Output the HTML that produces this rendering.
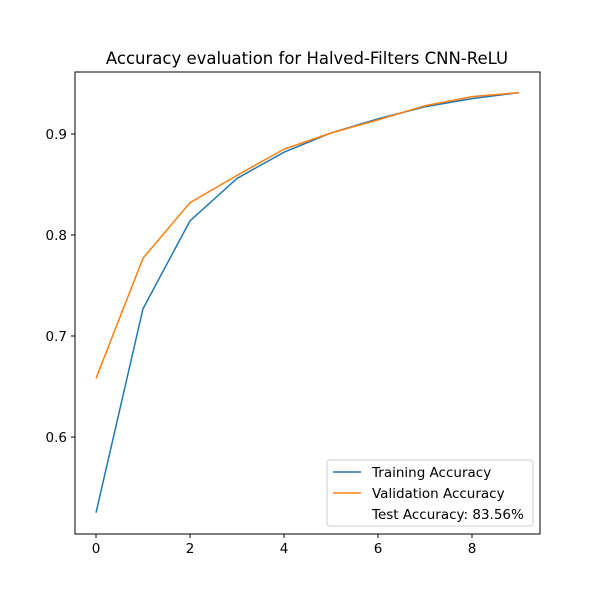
<!DOCTYPE html>
<html><head><meta charset="utf-8"><style>
body{margin:0;background:#fff}
svg{font-family:"DejaVu Sans","Liberation Sans",sans-serif}
</style></head><body>
<svg id="chart" width="600" height="600" xmlns="http://www.w3.org/2000/svg">
<rect width="600" height="600" fill="#fff"/>
<text x="307" y="64" text-anchor="middle" font-size="16.5">Accuracy evaluation for Halved-Filters CNN-ReLU</text>
<g id="ticks"></g>
<g id="lines"></g>
<rect x="75" y="72" width="465" height="462" fill="none" stroke="#000" stroke-width="1"/>
<g>
<rect x="327" y="460" width="206" height="66" rx="3" fill="#fff" fill-opacity="0.8" stroke="#ccc"/>
<line x1="333" y1="472" x2="361" y2="472" stroke="#1f77b4" stroke-width="1.5"/>
<text x="372" y="477" font-size="13.5">Training Accuracy</text>
<line x1="333" y1="493" x2="361" y2="493" stroke="#ff7f0e" stroke-width="1.5"/>
<text x="372" y="498" font-size="13.5">Validation Accuracy</text>
<text x="372" y="519" font-size="13.5">Test Accuracy: 83.56%</text>
</g>
</svg>
<script>
const epochs=[0,1,2,3,4,5,6,7,8,9];
const trainAcc=[0.525,0.727,0.814,0.856,0.882,0.901,0.915,0.927,0.935,0.941];
const valAcc=[0.658,0.777,0.832,0.859,0.885,0.901,0.914,0.928,0.937,0.941];
const xTicks=[0,2,4,6,8];
const yTicks=[0.6,0.7,0.8,0.9];
const yTickLabels=["0.6","0.7","0.8","0.9"];
const NS="http://www.w3.org/2000/svg";
const xs=v=>96+v*47;
const ys=v=>437-(v-0.6)*1010;
const tg=document.getElementById('ticks');
function mk(tag,attrs,parent){const e=document.createElementNS(NS,tag);for(const k in attrs)e.setAttribute(k,attrs[k]);parent.appendChild(e);return e;}
xTicks.forEach(t=>{
 const l=mk('line',{x1:xs(t),x2:xs(t),y1:534,y2:538,stroke:'#000'},tg);
 
 
 const tx=mk('text',{x:xs(t),y:553,'text-anchor':'middle','font-size':'13.5'},tg);
 tx.textContent=t;
 
 
});
yTicks.forEach((t,i)=>{
 const l=mk('line',{x1:71,x2:75,y1:ys(t),y2:ys(t),stroke:'#000'},tg);
 
 
 const tx=mk('text',{x:67,y:ys(t)+5,'text-anchor':'end','font-size':'13.5'},tg);
 tx.textContent=yTickLabels[i];
 
 
});
const lg=document.getElementById('lines');
function series(vals,color,name){
 const p=mk('polyline',{points:epochs.map((e,i)=>xs(e)+','+ys(vals[i])).join(' '),fill:'none',stroke:color,'stroke-width':'1.5'},lg);
 
 
}
series(trainAcc,'#1f77b4','training-accuracy-line');
series(valAcc,'#ff7f0e','validation-accuracy-line');
</script>
</body></html>
